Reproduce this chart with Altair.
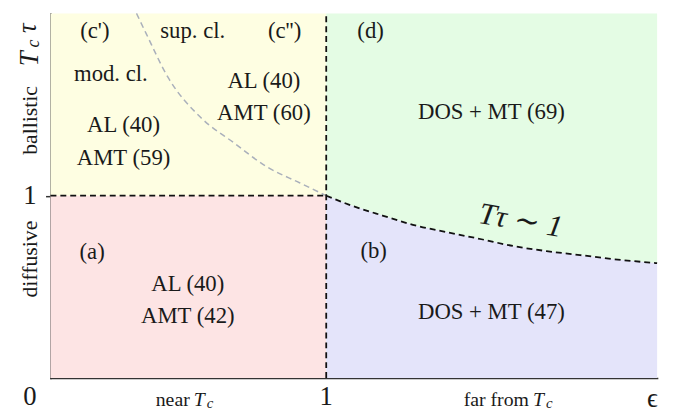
import altair as alt
import pandas as pd

# ---- data ----
# boundary T*tau ~ 1 (black dashed), epsilon from 1 to 2.2
curve_x = [1.0, 1.082, 1.204, 1.323, 1.441, 1.563, 1.681, 1.799, 1.921, 2.039, 2.2]
curve_y = [1.0, 0.951, 0.891, 0.837, 0.799, 0.761, 0.723, 0.696, 0.674, 0.652, 0.630]

# grey dashed boundary in the ballistic / near-Tc quadrant
grey_x = [0.312, 0.348, 0.427, 0.545, 0.667, 0.785, 0.903, 1.0]
grey_y = [2.0, 1.886, 1.647, 1.429, 1.288, 1.158, 1.071, 1.0]

X_MAX = 2.2
Y_MAX = 2.0

# rectangular regions
rect_names = ["ballistic near", "diffusive near"]
rect_x = [0.0, 0.0]
rect_x2 = [1.0, 1.0]
rect_y = [1.0, 0.0]
rect_y2 = [2.0, 1.0]
rect_colors = ["#fefee2", "#fde4e4"]

# region labels (text, x, y)
labels = ["(c')", "sup. cl.", "(c'')", "mod. cl.", "AL (40)", "AMT (59)",
          "AL (40)", "AMT (60)", "(d)", "DOS + MT (69)",
          "(a)", "AL (40)", "AMT (42)", "(b)", "DOS + MT (47)"]
label_x = [0.161, 0.516, 0.849, 0.219, 0.265, 0.265,
           0.774, 0.774, 1.161, 1.599,
           0.151, 0.498, 0.498, 1.172, 1.599]
label_y = [1.902, 1.902, 1.902, 1.668, 1.386, 1.207,
           1.630, 1.451, 1.902, 1.457,
           0.690, 0.516, 0.342, 0.696, 0.364]

# axis corner labels
tick_text = ["0", "1", "1", "\u03f5"]
tick_x = [-0.075, 1.0, -0.075, 2.183]
tick_y = [-0.105, -0.105, 1.0, -0.115]

# ---- frames ----
curve_df = pd.DataFrame({"x": curve_x, "y": curve_y,
                         "top": [Y_MAX] * len(curve_x), "bottom": [0.0] * len(curve_x)})
grey_df = pd.DataFrame({"x": grey_x, "y": grey_y})
rect_df = pd.DataFrame({"name": rect_names, "x": rect_x, "x2": rect_x2,
                        "y": rect_y, "y2": rect_y2, "color": rect_colors})
lab_df = pd.DataFrame({"t": labels, "x": label_x, "y": label_y})
tick_df = pd.DataFrame({"t": tick_text, "x": tick_x, "y": tick_y})

xs = alt.Scale(domain=[0, X_MAX], nice=False, zero=False)
ys = alt.Scale(domain=[0, Y_MAX], nice=False, zero=False)
SERIF = "'Liberation Serif', 'DejaVu Serif', serif"

xax = alt.Axis(values=[1], labels=False, ticks=False, grid=False, domainColor="#333333",
               domainWidth=1.5, title=None)
yax = alt.Axis(values=[1], labels=False, ticks=True, tickSize=5, tickColor="#333333",
               tickWidth=1.5, grid=False, domainColor="#333333", domainWidth=1.5, title=None)

rects = alt.Chart(rect_df).mark_rect().encode(
    x=alt.X("x:Q", scale=xs, axis=xax), x2="x2:Q",
    y=alt.Y("y:Q", scale=ys, axis=yax), y2="y2:Q",
    color=alt.Color("color:N", scale=None, legend=None))

green = alt.Chart(curve_df).mark_area(color="#e4fce4").encode(
    x=alt.X("x:Q", scale=xs), y=alt.Y("y:Q", scale=ys), y2="top:Q")
blue = alt.Chart(curve_df).mark_area(color="#e4e4fa").encode(
    x=alt.X("x:Q", scale=xs), y=alt.Y("y:Q", scale=ys), y2="bottom:Q")

grey = alt.Chart(grey_df).mark_line(color="#aab0bb", strokeWidth=1.5,
                                    strokeDash=[6, 4], interpolate="monotone").encode(
    x=alt.X("x:Q", scale=xs), y=alt.Y("y:Q", scale=ys))

black = alt.Chart(curve_df).mark_line(color="#111111", strokeWidth=1.8,
                                      strokeDash=[6, 4], interpolate="monotone").encode(
    x=alt.X("x:Q", scale=xs), y=alt.Y("y:Q", scale=ys))

seg_df = pd.DataFrame({"x": [0.0, 1.0], "x2": [1.0, 1.0], "y": [1.0, 0.0], "y2": [1.0, Y_MAX]})
segs = alt.Chart(seg_df).mark_rule(color="#111111", strokeWidth=1.8, strokeDash=[6, 4]).encode(
    x=alt.X("x:Q", scale=xs), x2="x2:Q", y=alt.Y("y:Q", scale=ys), y2="y2:Q")

texts = alt.Chart(lab_df).mark_text(font=SERIF, fontSize=23, color="#1a1a1a",
                                    align="center", baseline="middle").encode(
    x=alt.X("x:Q", scale=xs), y=alt.Y("y:Q", scale=ys), text="t:N")

ticks_t = alt.Chart(tick_df).mark_text(font=SERIF, fontSize=27, color="#1a1a1a",
                                       align="center", baseline="middle").encode(
    x=alt.X("x:Q", scale=xs), y=alt.Y("y:Q", scale=ys), text="t:N")

# bottom axis descriptions: "near T_c", "far from T_c"
bot_df = pd.DataFrame({"t": ["near", "far from"], "x": [0.505, 1.735], "y": [-0.12, -0.12]})
bot = alt.Chart(bot_df).mark_text(font=SERIF, fontSize=20, color="#1a1a1a",
                                  align="right", baseline="middle").encode(
    x=alt.X("x:Q", scale=xs), y=alt.Y("y:Q", scale=ys), text="t:N")
botT_df = pd.DataFrame({"t": ["T", "T"], "x": [0.52, 1.75], "y": [-0.12, -0.12]})
botT = alt.Chart(botT_df).mark_text(font=SERIF, fontSize=20, fontStyle="italic", color="#1a1a1a",
                                    align="left", baseline="middle").encode(
    x=alt.X("x:Q", scale=xs), y=alt.Y("y:Q", scale=ys), text="t:N")
botc_df = pd.DataFrame({"t": ["c", "c"], "x": [0.567, 1.797], "y": [-0.14, -0.14]})
botc = alt.Chart(botc_df).mark_text(font=SERIF, fontSize=15, fontStyle="italic", color="#1a1a1a",
                                    align="left", baseline="middle").encode(
    x=alt.X("x:Q", scale=xs), y=alt.Y("y:Q", scale=ys), text="t:N")

# rotated left descriptions
side_df = pd.DataFrame({"t": ["ballistic", "diffusive"], "x": [-0.075, -0.075], "y": [1.413, 0.652]})
side = alt.Chart(side_df).mark_text(font=SERIF, fontSize=22, color="#1a1a1a", angle=270,
                                    align="center", baseline="middle").encode(
    x=alt.X("x:Q", scale=xs), y=alt.Y("y:Q", scale=ys), text="t:N")
ylab_df = pd.DataFrame({"t": ["T", "\u03c4"], "x": [-0.075, -0.08], "y": [1.75, 1.918]})
ylab = alt.Chart(ylab_df).mark_text(font=SERIF, fontSize=27, fontStyle="italic", color="#1a1a1a",
                                    angle=270, align="center", baseline="middle").encode(
    x=alt.X("x:Q", scale=xs), y=alt.Y("y:Q", scale=ys), text="t:N")
ylabc_df = pd.DataFrame({"t": ["c"], "x": [-0.06], "y": [1.835]})
ylabc = alt.Chart(ylabc_df).mark_text(font=SERIF, fontSize=18, fontStyle="italic", color="#1a1a1a",
                                      angle=270, align="center", baseline="middle").encode(
    x=alt.X("x:Q", scale=xs), y=alt.Y("y:Q", scale=ys), text="t:N")

# T tau ~ 1 on the boundary
tt_df = pd.DataFrame({"t": ["T\u03c4 \u223c 1"], "x": [1.705], "y": [0.86]})
tt = alt.Chart(tt_df).mark_text(font=SERIF, fontSize=31, fontStyle="italic", color="#1a1a1a",
                                angle=10, align="center", baseline="middle").encode(
    x=alt.X("x:Q", scale=xs), y=alt.Y("y:Q", scale=ys), text="t:N")

chart = alt.layer(rects, green, blue, grey, segs, black, texts, ticks_t, bot, botT, botc,
                  side, ylab, ylabc, tt).properties(
    width=614, height=369,
    autosize=alt.AutoSizeParams(type="none"),
    padding={"left": 43, "top": 3, "right": 9, "bottom": 33},
).configure_view(stroke=None).configure_axis(domainCap="square")

chart.save("out.html", embed_options={"renderer": "svg", "actions": False})
